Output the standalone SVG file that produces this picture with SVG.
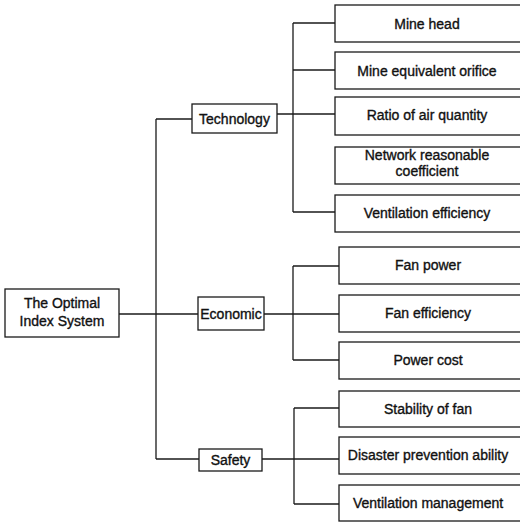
<svg xmlns="http://www.w3.org/2000/svg" width="520" height="523" viewBox="0 0 520 523">
<style>
rect{fill:#fff;stroke:#1a1a1a;stroke-width:1.3}
.c line{stroke:#1a1a1a;stroke-width:1.3}
text{font-family:"Liberation Sans",Arial,sans-serif;font-size:14px;fill:#111;stroke:#111;stroke-width:0.35;text-anchor:middle}
</style>
<rect x="0" y="0" width="520" height="523" style="stroke:none"/>
<g class="c" id="connectors">
<line x1="119" y1="314" x2="198" y2="314"/>
<line x1="156" y1="119" x2="156" y2="459"/>
<line x1="156" y1="119" x2="192" y2="119"/>
<line x1="156" y1="459" x2="199" y2="459"/>
<line x1="277" y1="114" x2="335" y2="114"/>
<line x1="293" y1="23" x2="293" y2="212"/>
<line x1="293" y1="23" x2="335" y2="23"/>
<line x1="293" y1="70" x2="335" y2="70"/>
<line x1="293" y1="212" x2="335" y2="212"/>
<line x1="264" y1="314" x2="339" y2="314"/>
<line x1="293" y1="266" x2="293" y2="360"/>
<line x1="293" y1="266" x2="339" y2="266"/>
<line x1="293" y1="360" x2="339" y2="360"/>
<line x1="262" y1="459" x2="339" y2="459"/>
<line x1="294" y1="408" x2="294" y2="504"/>
<line x1="294" y1="408" x2="339" y2="408"/>
<line x1="294" y1="504" x2="339" y2="504"/>
</g>
<g id="root"><rect x="5" y="289" width="114" height="48"/><text x="62" y="308">The Optimal</text><text x="62" y="326">Index System</text></g>
<g id="technology"><rect x="192" y="104" width="85" height="29"/><text x="234.5" y="123.5">Technology</text></g>
<g id="economic"><rect x="198" y="297" width="66" height="33"/><text x="231" y="318.5">Economic</text></g>
<g id="safety"><rect x="199" y="449" width="63" height="22"/><text x="230.5" y="465">Safety</text></g>
<g id="mine-head"><rect x="335" y="5" width="190" height="37"/><text x="427" y="28.5">Mine head</text></g>
<g id="mine-orifice"><rect x="335" y="52" width="190" height="37"/><text x="427" y="75.5">Mine equivalent orifice</text></g>
<g id="ratio-air"><rect x="335" y="97" width="190" height="38"/><text x="427" y="120">Ratio of air quantity</text></g>
<g id="network-coef"><rect x="335" y="147" width="190" height="37"/><text x="427" y="160">Network reasonable</text><text x="427" y="176">coefficient</text></g>
<g id="vent-eff"><rect x="335" y="195" width="190" height="37"/><text x="427" y="218">Ventilation efficiency</text></g>
<g id="fan-power"><rect x="339" y="247" width="186" height="37"/><text x="428" y="270">Fan power</text></g>
<g id="fan-eff"><rect x="339" y="295" width="186" height="37"/><text x="428" y="318">Fan efficiency</text></g>
<g id="power-cost"><rect x="339" y="342" width="186" height="37"/><text x="428" y="365">Power cost</text></g>
<g id="fan-stability"><rect x="339" y="391" width="186" height="36"/><text x="428" y="413.5">Stability of fan</text></g>
<g id="disaster"><rect x="339" y="437" width="186" height="37"/><text x="428" y="460">Disaster prevention ability</text></g>
<g id="vent-mgmt"><rect x="339" y="485" width="186" height="36"/><text x="428" y="508">Ventilation management</text></g>
</svg>
